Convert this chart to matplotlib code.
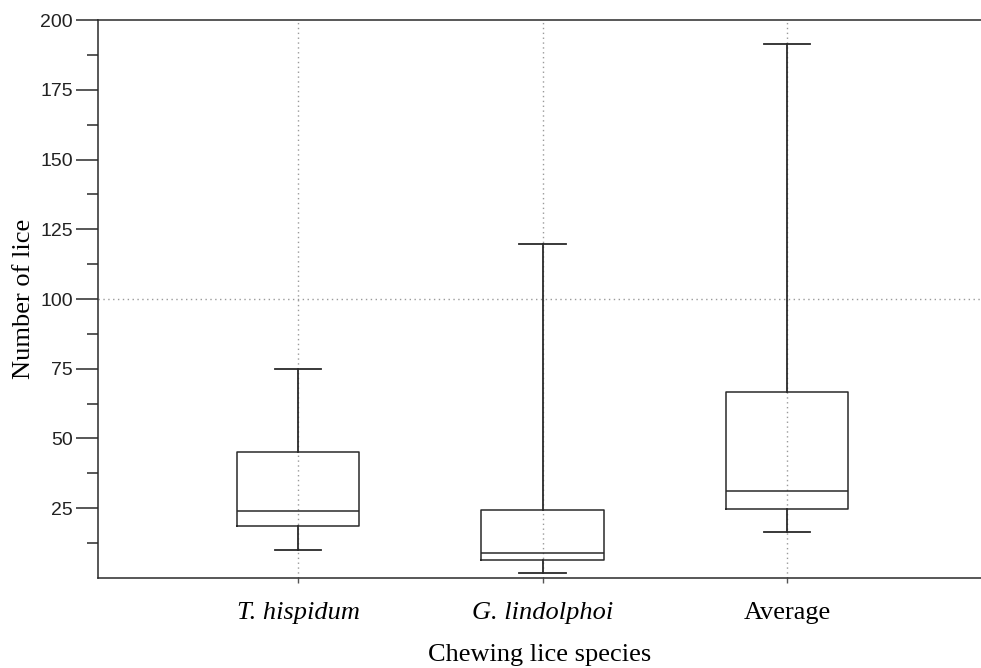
import numpy as np
import matplotlib.pyplot as plt
from matplotlib.ticker import FixedLocator

# Box summary values (number of lice)
species = ['T. hispidum', 'G. lindolphoi', 'Average']
italic = [True, True, False]
whislo = [9.8, 1.7, 16.5]
q1 = [18.5, 6.2, 24.8]
med = [23.8, 8.9, 31.1]
q3 = [45.0, 24.4, 66.6]
whishi = [74.9, 119.8, 191.4]
yticks = [25, 50, 75, 100, 125, 150, 175, 200]

W, H = 981, 668
PX = 0.72  # points per pixel at 100 dpi
fig = plt.figure(figsize=(W / 100, H / 100), dpi=100)
ax = fig.add_axes([98 / W, (H - 577.7) / H, (W - 98) / W, (577.7 - 20.3) / H])

stats = []
for i in range(len(species)):
    stats.append(dict(label=species[i], whislo=whislo[i], q1=q1[i], med=med[i],
                      q3=q3[i], whishi=whishi[i], fliers=[]))

line_col = '#2a2a2a'
pos = np.arange(1, len(species) + 1)
ax.bxp(stats, positions=pos, widths=0.5, capwidths=0.19, showfliers=False,
       boxprops=dict(color=line_col, linewidth=1.1),
       medianprops=dict(color=line_col, linewidth=1.1),
       whiskerprops=dict(color=line_col, linewidth=1.3),
       capprops=dict(color=line_col, linewidth=1.3), zorder=3)

# dotted grid: verticals at categories, one horizontal at 100
for p in pos:
    ax.axvline(p, color='#9a9a9a', linestyle=(0, (1, 2.5)), linewidth=1, zorder=2)
ax.axhline(100, color='#9a9a9a', linestyle=(0, (1, 2.5)), linewidth=1, zorder=2)

ax.set_xlim(0.182, 3.793)
ax.set_ylim(0, 200)

ax.yaxis.set_major_locator(FixedLocator(yticks))
ax.yaxis.set_minor_locator(FixedLocator(np.arange(12.5, 200, 25)))
ax.tick_params(axis='y', which='major', length=22 * PX, width=1.1, color=line_col,
               labelsize=14, pad=3 * PX, labelcolor='#222222')
ax.tick_params(axis='y', which='minor', length=11 * PX, width=1.1, color=line_col)
for t in ax.get_yticklabels():
    t.set_fontfamily('Liberation Sans')

ax.set_xticks(pos)
ax.set_xticklabels(species)
ax.tick_params(axis='x', length=5 * PX, width=1, color='#555555', pad=14)
for t, it in zip(ax.get_xticklabels(), italic):
    t.set_fontfamily('Liberation Serif')
    t.set_fontsize(19)
    t.set_fontstyle('italic' if it else 'normal')

ax.set_xlabel('Chewing lice species', family='Liberation Serif', fontsize=19, labelpad=14)
ax.set_ylabel('Number of lice', family='Liberation Serif', fontsize=19, labelpad=4)

ax.spines['right'].set_visible(False)
for s in ['left', 'bottom', 'top']:
    ax.spines[s].set_color(line_col)
    ax.spines[s].set_linewidth(1.1)

fig.savefig('out.png', dpi=100)
